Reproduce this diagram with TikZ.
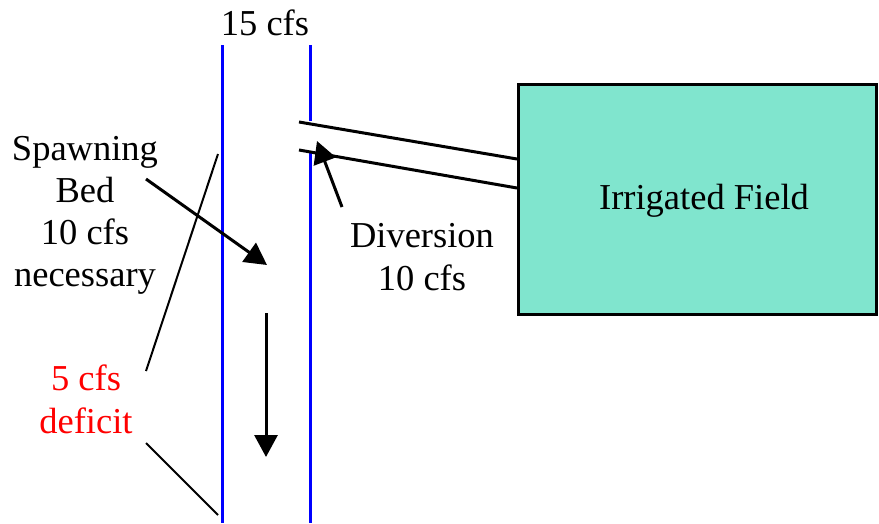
\documentclass[tikz,border=0pt]{standalone}
\usepackage{fontspec}
\setmainfont{Liberation Serif}
\usetikzlibrary{arrows.meta}
\definecolor{fieldfill}{HTML}{80E5CE}
\begin{document}
\begin{tikzpicture}[x=1pt,y=-1pt,
  lbl/.style={inner sep=0pt,anchor=base,font=\fontsize{36.5}{42}\selectfont},
  river/.style={draw=blue,line width=3pt},
  canal/.style={draw=black,line width=3pt},
  pointer/.style={draw=black,line width=2pt},
  flow/.style={draw=black,line width=3pt,-{Triangle[length=22pt,width=23pt]}},
  fieldbox/.style={draw=black,line width=3pt,fill=fieldfill}]
\useasboundingbox (0,0) rectangle (879,523);
% river banks
\coordinate (lt) at (222,45); \coordinate (lb) at (222,523);
\coordinate (rt) at (310,45); \coordinate (rm1) at (310,121);
\coordinate (rm2) at (310,151); \coordinate (rb) at (310,523);
\draw[river] (lt) -- (lb);
\draw[river] (rt) -- (rm1);
\draw[river] (rm2) -- (rb);
% field
\node[fieldbox,minimum width=358pt,minimum height=230pt,inner sep=0pt,anchor=north west] (field) at (517,83) {};
\node[lbl] (fieldlbl) at (704,209) {Irrigated Field};
% canal
\coordinate (c1a) at (299,122); \coordinate (c1b) at (517,159);
\coordinate (c2a) at (299,150); \coordinate (c2b) at (517,188);
\draw[canal] (c1a) -- (c1b);
\draw[canal] (c2a) -- (c2b);
% labels
\node[lbl] (top) at (265,35) {15 cfs};
\node[lbl] (sp1) at (85,160) {Spawning};
\node[lbl] (sp2) at (85,202) {Bed};
\node[lbl] (sp3) at (85,244) {10 cfs};
\node[lbl] (sp4) at (85,286) {necessary};
\node[lbl] (dv1) at (422,247) {Diversion};
\node[lbl] (dv2) at (422,290) {10 cfs};
\node[lbl,text=red] (df1) at (86,390) {5 cfs};
\node[lbl,text=red] (df2) at (86,433) {deficit};
% arrows
\coordinate (spA) at (146,179); \coordinate (spB) at (267,265);
\draw[flow] (spA) -- (spB);
\coordinate (dnA) at (266,313); \coordinate (dnB) at (266,457);
\draw[flow] (dnA) -- (dnB);
\coordinate (dvA) at (342,207); \coordinate (dvB) at (317,141);
\draw[flow] (dvA) -- (dvB);
% deficit pointers
\coordinate (p1a) at (146,371); \coordinate (p1b) at (218,154);
\coordinate (p2a) at (146,443); \coordinate (p2b) at (218,515);
\draw[pointer] (p1a) -- (p1b);
\draw[pointer] (p2a) -- (p2b);
\end{tikzpicture}
\end{document}
